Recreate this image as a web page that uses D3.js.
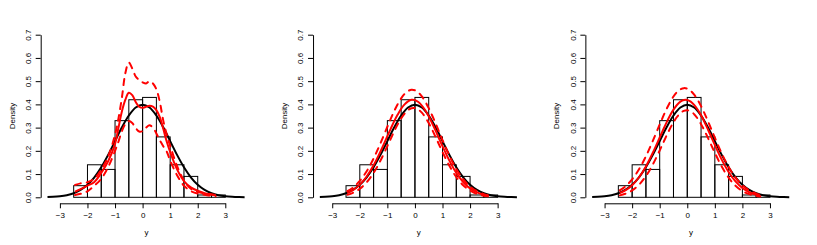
<!DOCTYPE html>
<html>
<head>
<meta charset="utf-8">
<script src="https://cdn.jsdelivr.net/npm/d3@7"></script>
<style>
body { margin: 0; background: #fff; }
text { font-family: "Liberation Sans", Arial, sans-serif; fill: #000; }
</style>
</head>
<body>
<svg id="chart" width="817" height="245"></svg>
<script>
// histogram (same sample in every panel), bin width 0.5
var binStart = [-2.5, -2, -1.5, -1, -0.5, 0, 0.5, 1, 1.5, 2, 2.5];
var binDensity = [0.05, 0.14, 0.12, 0.33, 0.42, 0.43, 0.26, 0.14, 0.09, 0.01, 0.01];
var binWidth = 0.5;

var xTicks = [-3, -2, -1, 0, 1, 2, 3];
var yTicks = [0, 0.1, 0.2, 0.3, 0.4, 0.5, 0.6, 0.7];

// true density (black)
var normX = [-3.45, -3.25, -3, -2.75, -2.5, -2.25, -2, -1.75, -1.5, -1.25, -1, -0.75, -0.5, -0.25, 0,
  0.25, 0.5, 0.75, 1, 1.25, 1.5, 1.75, 2, 2.25, 2.5, 2.75, 3, 3.25, 3.5, 3.7];
var normY = [0.00104, 0.00203, 0.00443, 0.00909, 0.01753, 0.03174, 0.05399, 0.08628, 0.12952, 0.18265,
  0.24197, 0.30114, 0.35207, 0.38667, 0.39894, 0.38667, 0.35207, 0.30114, 0.24197, 0.18265, 0.12952,
  0.08628, 0.05399, 0.03174, 0.01753, 0.00909, 0.00443, 0.00203, 0.00087, 0.00042];

// estimates (red): x grid shared by all panels
var gridX = [-2.45, -2.25, -2, -1.75, -1.5, -1.25, -1, -0.875, -0.75, -0.625, -0.5, -0.375, -0.25, -0.125, 0,
  0.125, 0.25, 0.375, 0.5, 0.625, 0.75, 0.875, 1, 1.25, 1.5, 1.75, 2, 2.25, 2.5, 2.65];

var fit1Mid = [0.024, 0.035, 0.05, 0.066, 0.105, 0.155, 0.23, 0.3, 0.37, 0.42, 0.45, 0.44, 0.41, 0.39, 0.385,
  0.39, 0.394, 0.39, 0.375, 0.345, 0.295, 0.24, 0.195, 0.12, 0.07, 0.043, 0.028, 0.018, 0.012, 0.01];
var fit1Up = [0.053, 0.06, 0.065, 0.08, 0.12, 0.175, 0.27, 0.34, 0.43, 0.535, 0.58, 0.555, 0.52, 0.505, 0.495,
  0.49, 0.5, 0.49, 0.465, 0.41, 0.33, 0.27, 0.222, 0.135, 0.072, 0.037, 0.024, 0.017, 0.012, 0.01];
var fit1Lo = [0.01, 0.015, 0.026, 0.05, 0.08, 0.13, 0.2, 0.24, 0.285, 0.315, 0.328, 0.32, 0.298, 0.283, 0.285,
  0.3, 0.31, 0.3, 0.275, 0.245, 0.22, 0.197, 0.158, 0.095, 0.05, 0.027, 0.016, 0.011, 0.006, 0.005];

var fit2Mid = [0.0187, 0.0309, 0.0545, 0.0896, 0.1375, 0.197, 0.263, 0.296, 0.328, 0.356, 0.381, 0.4, 0.413, 0.4195, 0.4185,
  0.41, 0.395, 0.3745, 0.349, 0.319, 0.287, 0.253, 0.22, 0.158, 0.105, 0.066, 0.038, 0.021, 0.0105, 0.0067];
var fit2Up = [0.0261, 0.0417, 0.0707, 0.1122, 0.1669, 0.2326, 0.3037, 0.3387, 0.3716, 0.4011, 0.426, 0.4451, 0.4576, 0.463, 0.4606,
  0.451, 0.4344, 0.4117, 0.3839, 0.3522, 0.3178, 0.2822, 0.2466, 0.1793, 0.1221, 0.0779, 0.0466, 0.0261, 0.0137, 0.009];
var fit2Lo = [0.011, 0.0194, 0.0368, 0.0647, 0.1051, 0.1583, 0.2206, 0.2529, 0.2845, 0.3139, 0.3398, 0.3607, 0.3756, 0.3837, 0.3844,
  0.3778, 0.3642, 0.3444, 0.3194, 0.2906, 0.2593, 0.227, 0.195, 0.1356, 0.0874, 0.0521, 0.0288, 0.0147, 0.007, 0.0043];

var fit3Mid = [0.0177, 0.0295, 0.0522, 0.0863, 0.1331, 0.1916, 0.2575, 0.2907, 0.3226, 0.3519, 0.3773, 0.3975, 0.4117, 0.419, 0.4192,
  0.4121, 0.3982, 0.3782, 0.353, 0.3238, 0.292, 0.2588, 0.2254, 0.1623, 0.1091, 0.0684, 0.04, 0.0218, 0.0111, 0.0072];
var fit3Up = [0.0297, 0.0466, 0.0773, 0.1205, 0.1764, 0.2427, 0.3135, 0.3481, 0.3805, 0.4095, 0.4339, 0.4526, 0.4647, 0.4699, 0.4677,
  0.4583, 0.4421, 0.4199, 0.3926, 0.3614, 0.3275, 0.2922, 0.2567, 0.1889, 0.1307, 0.0849, 0.0518, 0.0297, 0.016, 0.0107];
var fit3Lo = [0.0083, 0.0151, 0.0298, 0.0543, 0.0912, 0.1412, 0.2017, 0.2339, 0.2658, 0.2961, 0.3232, 0.3457, 0.3624, 0.3723, 0.3749,
  0.3699, 0.3578, 0.3391, 0.3149, 0.2867, 0.2557, 0.2236, 0.1915, 0.1324, 0.0844, 0.0496, 0.0269, 0.0135, 0.0062, 0.0038];

var panelFits = [
  { mid: fit1Mid, up: fit1Up, lo: fit1Lo },
  { mid: fit2Mid, up: fit2Up, lo: fit2Lo },
  { mid: fit3Mid, up: fit3Up, lo: fit3Lo }
];

var W = 817, H = 245;
var panelW = W / 3;
var svg = d3.select("#chart");
svg.append("rect").attr("width", W).attr("height", H).attr("fill", "#fff");

function drawPanel(i, fits) {
  var g = svg.append("g").attr("transform", "translate(" + (i * panelW) + ",0)");
  var x = d3.scaleLinear().domain([-3, 3]).range([59.9, 225.3]);
  var y = d3.scaleLinear().domain([0, 0.7]).range([197.3, 34.7]);
  var axisY = 203.3, axisX = 40.7;

  // histogram
  g.selectAll("rect.bar")
    .data(binStart)
    .enter().append("rect")
    .attr("class", "bar")
    .attr("x", function (d) { return x(d); })
    .attr("width", function (d) { return x(d + binWidth) - x(d); })
    .attr("y", function (d, j) { return y(binDensity[j]); })
    .attr("height", function (d, j) { return y(0) - y(binDensity[j]); })
    .attr("fill", "none")
    .attr("stroke", "#000")
    .attr("stroke-width", 1);

  var line = function (xs) {
    return d3.line()
      .x(function (d, j) { return x(xs[j]); })
      .y(function (d) { return y(d); })
      .curve(d3.curveCatmullRom.alpha(0.5));
  };

  g.append("path")
    .attr("d", line(normX)(normY))
    .attr("fill", "none").attr("stroke", "#000").attr("stroke-width", 2);

  g.append("path")
    .attr("d", line(gridX)(fits.mid))
    .attr("fill", "none").attr("stroke", "#ff0000").attr("stroke-width", 2);

  [fits.up, fits.lo].forEach(function (s) {
    g.append("path")
      .attr("d", line(gridX)(s))
      .attr("fill", "none").attr("stroke", "#ff0000").attr("stroke-width", 2)
      .attr("stroke-dasharray", "6,6").attr("stroke-linecap", "round");
  });

  // axes
  var xa = g.append("g").attr("transform", "translate(0," + axisY + ")")
    .call(d3.axisBottom(x).tickValues(xTicks).tickSize(5).tickSizeOuter(0).tickPadding(4.5).tickFormat(d3.format("d")));
  var ya = g.append("g").attr("transform", "translate(" + axisX + ",0)")
    .call(d3.axisLeft(y).tickValues(yTicks).tickSize(5).tickSizeOuter(0).tickFormat(d3.format(".1f")));
  [xa, ya].forEach(function (a) {
    a.selectAll("path, line").attr("stroke", "#000");
    a.selectAll("text").attr("font-size", 8).attr("font-family", "Liberation Sans, Arial, sans-serif");
  });
  ya.selectAll(".tick text")
    .attr("x", null).attr("dy", null)
    .attr("text-anchor", "middle")
    .attr("transform", "translate(-9.8,0) rotate(-90)");

  g.append("text")
    .attr("x", x(0) + 3.8).attr("y", 234.5)
    .attr("text-anchor", "middle").attr("font-size", 8)
    .text("y");
  g.append("text")
    .attr("transform", "translate(14.6,116) rotate(-90)")
    .attr("text-anchor", "middle").attr("font-size", 8)
    .text("Density");
}

for (var i = 0; i < 3; i++) drawPanel(i, panelFits[i]);
</script>
</body>
</html>
